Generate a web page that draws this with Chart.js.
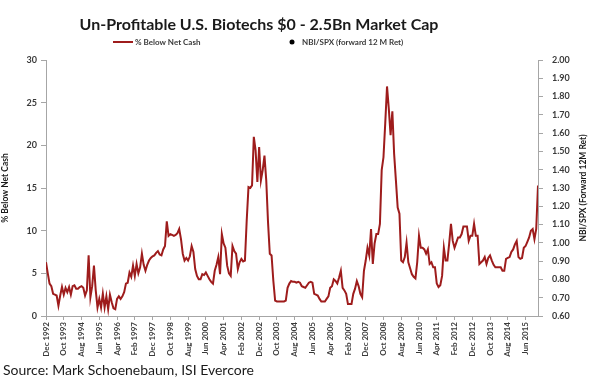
<!DOCTYPE html>
<html>
<head>
<meta charset="utf-8">
<script src="https://cdn.jsdelivr.net/npm/chart.js@4.4.1/dist/chart.umd.min.js"></script>
<style>
  html, body { margin: 0; padding: 0; background: #fff; }
</style>
</head>
<body>
<canvas id="chart" width="600" height="391"></canvas>
<script>
// Chart text
const chartTitle = 'Un-Profitable U.S. Biotechs $0 - 2.5Bn Market Cap';
const seriesLabel = '% Below Net Cash';
const ratioLabel = 'NBI/SPX (forward 12 M Ret)';
const leftAxisTitle = '% Below Net Cash';
const rightAxisTitle = 'NBI/SPX (Forward 12M Ret)';
const sourceText = 'Source: Mark Schoenebaum, ISI Evercore';

// x tick labels, one every 10 months starting Dec 1992
const tickLabels = [
    'Dec 1992', 'Oct 1993', 'Aug 1994', 'Jun 1995', 'Apr 1996', 'Feb 1997', 'Dec 1997',
    'Oct 1998', 'Aug 1999', 'Jun 2000', 'Apr 2001', 'Feb 2002', 'Dec 2002', 'Oct 2003',
    'Aug 2004', 'Jun 2005', 'Apr 2006', 'Feb 2007', 'Dec 2007', 'Oct 2008', 'Aug 2009',
    'Jun 2010', 'Apr 2011', 'Feb 2012', 'Dec 2012', 'Oct 2013', 'Aug 2014', 'Jun 2015'
];

// Monthly % below net cash, Dec 1992 onwards
const belowNetCash = [
    6.3, 5.0, 3.8, 3.5, 2.6, 2.5, 2.4, 1.2, 2.4, 3.4, 2.5, 3.3,
    2.8, 3.4, 2.5, 3.5, 3.6, 3.2, 3.2, 3.4, 3.5, 3.3, 2.4, 3.0,
    7.1, 2.2, 3.5, 5.9, 3.0, 1.0, 2.0, 1.0, 2.6, 1.0, 2.3, 0.8,
    2.5, 1.6, 0.9, 0.8, 2.0, 2.3, 2.0, 2.3, 2.8, 3.8, 3.9, 5.1,
    4.6, 5.9, 4.7, 6.1, 5.0, 5.7, 7.3, 6.0, 5.3, 6.0, 6.5, 6.8,
    7.0, 7.1, 7.4, 7.6, 7.2, 7.1, 7.8, 8.2, 11.1, 9.4, 9.6, 9.5,
    9.4, 9.5, 9.7, 10.2, 9.0, 7.3, 6.5, 6.8, 6.5, 7.0, 8.2, 7.5,
    5.5, 4.7, 4.3, 4.3, 4.9, 4.8, 5.1, 4.7, 4.3, 4.0, 3.8, 5.3,
    6.0, 6.9, 4.9, 9.6, 8.5, 8.0, 5.9, 5.0, 4.7, 8.2, 7.6, 7.3,
    5.5, 6.3, 6.7, 6.4, 6.5, 11.2, 15.1, 15.0, 15.3, 21.0, 19.4, 15.7,
    19.8, 15.9, 17.1, 18.8, 15.9, 11.0, 7.3, 7.1, 4.1, 1.8, 1.7, 1.7,
    1.7, 1.7, 1.7, 1.8, 3.3, 3.8, 4.1, 4.0, 4.0, 3.9, 4.0, 3.9,
    3.5, 3.4, 3.3, 3.6, 3.9, 4.0, 3.9, 2.6, 2.5, 2.4, 2.0, 1.7,
    1.7, 1.7, 2.0, 2.3, 3.3, 3.5, 4.3, 4.1, 3.8, 4.5, 5.3, 3.3,
    3.0, 2.6, 1.4, 1.4, 1.4, 2.6, 3.2, 4.1, 3.5, 2.6, 2.2, 5.3,
    6.5, 8.0, 7.1, 10.2, 6.1, 8.5, 9.6, 9.6, 10.8, 17.1, 18.6, 22.6,
    26.9, 24.3, 21.2, 24.0, 19.0, 15.9, 12.7, 12.0, 6.5, 6.3, 6.9, 8.6,
    6.3, 5.6, 4.9, 4.6, 4.4, 6.3, 9.4, 8.0, 8.0, 7.8, 7.3, 7.8,
    6.1, 6.3, 5.7, 5.7, 3.8, 3.4, 3.6, 4.7, 8.0, 6.5, 6.5, 8.5,
    10.8, 8.8, 8.0, 8.6, 9.2, 9.2, 9.6, 10.5, 10.5, 10.5, 8.8, 9.4,
    9.4, 10.8, 9.4, 9.4, 6.1, 6.3, 6.5, 6.9, 6.1, 6.8, 7.1, 6.5,
    6.0, 5.7, 5.7, 5.7, 5.7, 5.3, 5.3, 6.7, 6.8, 6.9, 7.5, 7.8,
    8.4, 8.8, 6.9, 6.7, 6.8, 8.0, 8.2, 8.7, 9.2, 10.0, 10.2, 9.0,
    10.2, 15.3
];

// NBI/SPX series has no points in the picture, only a legend entry
const nbiSpx = [];

const lineColor = '#9e1c1c';
const axisColor = '#a6a6a6';
const textColor = '#3a3a3a';
const fontFamily = 'Lato, "Open Sans", sans-serif';

// Draws title, legend, right axis title and source line
const overlayText = {
    id: 'overlayText',
    afterDraw(chart) {
        const ctx = chart.ctx;
        const area = chart.chartArea;
        ctx.save();
        ctx.textBaseline = 'middle';

        // Title
        ctx.fillStyle = '#1a1a1a';
        ctx.textAlign = 'center';
        ctx.font = 'bold 16px ' + fontFamily;
        ctx.fillText(chartTitle, 259, 25);

        // Legend
        ctx.font = 'bold 8px ' + fontFamily;
        ctx.textAlign = 'left';
        ctx.strokeStyle = lineColor;
        ctx.lineWidth = 2;
        ctx.beginPath();
        ctx.moveTo(113, 42);
        ctx.lineTo(133, 42);
        ctx.stroke();
        ctx.fillStyle = textColor;
        ctx.fillText(seriesLabel, 135, 42);

        ctx.fillStyle = '#000';
        ctx.beginPath();
        ctx.arc(292, 42, 2.5, 0, Math.PI * 2);
        ctx.fill();
        ctx.fillStyle = textColor;
        ctx.fillText(ratioLabel, 302, 42);

        // Right axis title, reading bottom to top
        ctx.save();
        ctx.translate(583, (area.top + area.bottom) / 2);
        ctx.rotate(-Math.PI / 2);
        ctx.textAlign = 'center';
        ctx.font = 'bold 8.5px ' + fontFamily;
        ctx.fillStyle = '#1a1a1a';
        ctx.fillText(rightAxisTitle, 0, 0);
        ctx.restore();

        // Source
        ctx.textAlign = 'left';
        ctx.font = '14px ' + fontFamily;
        ctx.fillStyle = '#1a1a1a';
        ctx.fillText(sourceText, 3, 370);

        ctx.restore();
    }
};

const chart = new Chart(document.getElementById('chart'), {
    type: 'line',
    data: {
        datasets: [
            {
                label: seriesLabel,
                data: belowNetCash.map((v, i) => ({ x: i, y: v })),
                borderColor: lineColor,
                borderWidth: 2,
                pointRadius: 0,
                tension: 0,
                yAxisID: 'y'
            },
            {
                label: ratioLabel,
                data: nbiSpx,
                showLine: false,
                pointRadius: 2.5,
                backgroundColor: '#000',
                yAxisID: 'y1'
            }
        ]
    },
    options: {
        responsive: false,
        animation: false,
        layout: { padding: { top: 60, left: 0, right: 0, bottom: 0 } },
        plugins: {
            legend: { display: false },
            title: { display: false },
            tooltip: { enabled: false }
        },
        scales: {
            x: {
                type: 'linear',
                min: 0,
                max: belowNetCash.length - 1,
                afterBuildTicks: scale => {
                    scale.ticks = tickLabels.map((_, i) => ({ value: i * 10 }));
                },
                afterFit: scale => { scale.height = 75; },
                grid: { drawOnChartArea: false, drawTicks: true, tickLength: 4, color: axisColor },
                border: { color: axisColor },
                ticks: {
                    autoSkip: false,
                    maxRotation: 90,
                    minRotation: 90,
                    padding: 2,
                    color: textColor,
                    font: { family: fontFamily, size: 8, weight: 'bold' },
                    callback: value => tickLabels[value / 10]
                }
            },
            y: {
                position: 'left',
                min: 0,
                max: 30,
                afterFit: scale => { scale.width = 46; },
                grid: { drawOnChartArea: false, drawTicks: true, tickLength: 5, color: axisColor },
                border: { color: axisColor },
                ticks: {
                    stepSize: 5,
                    padding: 4,
                    color: textColor,
                    font: { family: fontFamily, size: 9, weight: 'bold' }
                },
                title: {
                    display: true,
                    text: leftAxisTitle,
                    color: '#1a1a1a',
                    padding: { top: 0, bottom: 0 },
                    font: { family: fontFamily, size: 8.5, weight: 'bold' }
                }
            },
            y1: {
                position: 'right',
                min: 0.6,
                max: 2.0,
                afterFit: scale => { scale.width = 62; },
                grid: { drawOnChartArea: false, drawTicks: true, tickLength: 5, color: axisColor },
                border: { color: axisColor },
                ticks: {
                    stepSize: 0.1,
                    padding: 9,
                    color: textColor,
                    font: { family: fontFamily, size: 9, weight: 'bold' },
                    callback: value => value.toFixed(2)
                }
            }
        }
    },
    plugins: [overlayText]
});
</script>
</body>
</html>
